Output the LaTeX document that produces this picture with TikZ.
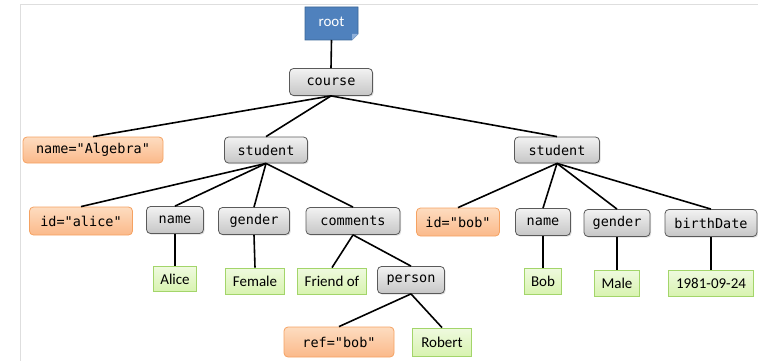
\documentclass[tikz,border=0pt]{standalone}
\usepackage{fontspec}
\setmonofont{DejaVu Sans Mono}
\newfontfamily\valfont{Carlito}
\usetikzlibrary{shadows}
\definecolor{elemtop}{HTML}{F2F2F2}
\definecolor{elembot}{HTML}{C6C6C6}
\definecolor{elemline}{HTML}{5A5A5A}
\definecolor{attrtop}{HTML}{FDDCC0}
\definecolor{attrbot}{HTML}{FBB98A}
\definecolor{attrline}{HTML}{F5A262}
\definecolor{texttop}{HTML}{EFFADF}
\definecolor{textbot}{HTML}{D8F3B0}
\definecolor{textline}{HTML}{A3D56A}
\definecolor{rootfill}{HTML}{4F81BD}
\definecolor{rootline}{HTML}{3A6596}
\definecolor{rootfold}{HTML}{8FB0DA}
\definecolor{framegray}{HTML}{DEDEDE}
\tikzset{
  elem/.style={draw=elemline, line width=0.8pt, rounded corners=4pt,
    top color=elemtop, bottom color=elembot, minimum height=27pt,
    inner sep=0pt, font=\fontsize{13.5}{15}\ttfamily,
    drop shadow={opacity=0.25, shadow xshift=1.2pt, shadow yshift=-1.2pt}},
  attr/.style={draw=attrline, line width=0.8pt, rounded corners=4pt,
    top color=attrtop, bottom color=attrbot, minimum height=27pt,
    inner sep=0pt, font=\fontsize{13.5}{15}\ttfamily},
  textval/.style={draw=textline, line width=0.8pt,
    top color=texttop, bottom color=textbot, minimum height=26pt,
    inner sep=0pt, font=\fontsize{15}{17}\valfont},
  edge/.style={line width=1.6pt, black}
}
\begin{document}
\begin{tikzpicture}[x=1pt, y=-1pt]
\useasboundingbox (0,0) rectangle (758,361);
% light frame
\draw[framegray, line width=1pt] (20,361) -- (20,5) -- (758,5);

% root with folded corner
\coordinate (rnw) at (305,7);
\coordinate (rse) at (358,40);
\fill[rootfill] (305,7) -- (358,7) -- (358,34) -- (352,40) -- (305,40) -- cycle;
\draw[rootline, line width=0.6pt] (305,7) -- (358,7) -- (358,34) -- (352,40) -- (305,40) -- cycle;
\fill[rootfold] (358,34) -- (352,34) -- (352,40) -- cycle;
\node[text=white, font=\fontsize{15}{17}\valfont] (root) at (331.5,22) {root};
\coordinate (rootb) at (331.5,40);

% element nodes
\node[elem, minimum width=83pt] (course) at (331,82) {course};
\node[elem, minimum width=83pt, minimum height=26pt] (stuA) at (266,150) {student};
\node[elem, minimum width=85pt, minimum height=26pt] (stuB) at (557,150) {student};
\node[elem, minimum width=57pt] (nameA) at (175,220) {name};
\node[elem, minimum width=71pt] (genA) at (254,221) {gender};
\node[elem, minimum width=94pt] (comm) at (353,221) {comments};
\node[elem, minimum width=67pt] (person) at (411,280) {person};
\node[elem, minimum width=55pt] (nameB) at (543,222) {name};
\node[elem, minimum width=66pt] (genB) at (617,223) {gender};
\node[elem, minimum width=92pt] (birth) at (711,223) {birthDate};

% attribute nodes
\node[attr, minimum width=140pt, minimum height=26pt] (alg) at (93,150) {name="Algebra"};
\node[attr, minimum width=103pt, minimum height=28pt] (idA) at (81,221) {id="alice"};
\node[attr, minimum width=83pt, minimum height=28pt] (idB) at (458,222) {id="bob"};
\node[attr, minimum width=110pt, minimum height=30pt] (ref) at (339,342) {ref="bob"};

% text values
\node[textval, minimum width=43pt, minimum height=25pt] (alice) at (175,279) {Alice};
\node[textval, minimum width=59pt] (female) at (255,281) {Female};
\node[textval, minimum width=69pt] (friend) at (332,281) {Friend of};
\node[textval, minimum width=37pt] (bob) at (543,281) {Bob};
\node[textval, minimum width=45pt] (male) at (617,283) {Male};
\node[textval, minimum width=85pt] (date) at (711,283) {1981-09-24};
\node[textval, minimum width=59pt, minimum height=28pt] (robert) at (442,342) {Robert};

% connectors
\begin{scope}[on background layer/.style={}]
\draw[edge] (rootb) -- (course.north);
\draw[edge] (course.south) -- (alg.north);
\draw[edge] (course.south) -- (stuA.north);
\draw[edge] (course.south) -- (stuB.north);
\draw[edge] (stuA.south) -- (idA.north);
\draw[edge] (stuA.south) -- (nameA.north);
\draw[edge] (stuA.south) -- (genA.north);
\draw[edge] (stuA.south) -- (comm.north);
\draw[edge] (nameA.south) -- (alice.north);
\draw[edge] (genA.south) -- (female.north);
\draw[edge] (comm.south) -- (friend.north);
\draw[edge] (comm.south) -- (person.north);
\draw[edge] (person.south) -- (ref.north);
\draw[edge] (person.south) -- (robert.north);
\draw[edge] (stuB.south) -- (idB.north);
\draw[edge] (stuB.south) -- (nameB.north);
\draw[edge] (stuB.south) -- (genB.north);
\draw[edge] (stuB.south) -- (birth.north);
\draw[edge] (nameB.south) -- (bob.north);
\draw[edge] (genB.south) -- (male.north);
\draw[edge] (birth.south) -- (date.north);
\end{scope}
\end{tikzpicture}
\end{document}
